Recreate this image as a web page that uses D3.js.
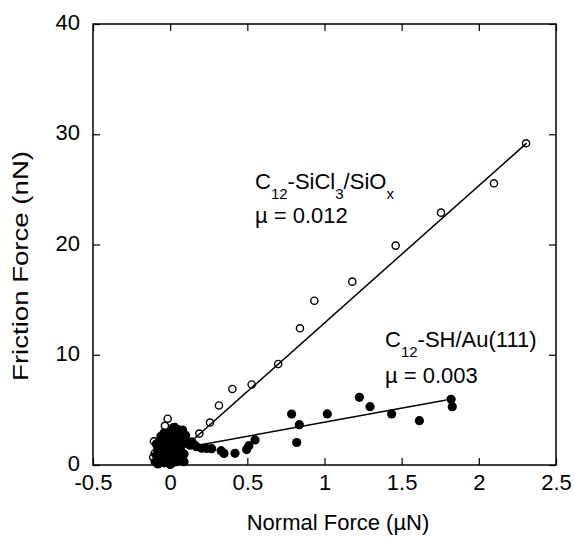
<!DOCTYPE html>
<html>
<head>
<meta charset="utf-8">
<script src="https://cdn.jsdelivr.net/npm/d3@7"></script>
<style>
  body { margin: 0; background: #fff; }
  text { font-family: "Liberation Sans", Arial, sans-serif; fill: #000; }
</style>
</head>
<body>
<div id="chart"></div>
<script>
// C12-SiCl3/SiOx (open circles)
var openX = [2.306, 2.098, 1.755, 1.461, 1.18, 0.934, 0.841, 0.70, 0.528, 0.403, 0.316, 0.258, 0.189, 0.117,
  -0.016, -0.034, 0.031, -0.105, -0.10, -0.10, -0.11, -0.08, 0.0, 0.05];
var openY = [29.18, 25.55, 22.89, 19.9, 16.63, 14.9, 12.4, 9.16, 7.3, 6.9, 5.4, 3.85, 2.85, 1.97,
  4.2, 3.55, 3.45, 2.15, 1.06, 0.3, 0.7, 1.6, 3.0, 2.9];

// C12-SH/Au(111) (filled circles)
var filledX = [1.828, 1.82, 1.615, 1.435, 1.295, 1.226, 1.018, 0.837, 0.82, 0.787,
  0.55, 0.51, 0.496, 0.42, 0.349, 0.33, 0.269, 0.236, 0.204, 0.17, 0.14, 0.16, 0.128, 0.10, 0.081,
  -0.09, -0.09, -0.08, -0.07, -0.08, -0.07, -0.06, -0.06, -0.05, -0.05, -0.04, -0.04,
  -0.03, -0.03, -0.02, -0.02, -0.01, 0.0, 0.0, 0.0, 0.0, 0.01, 0.01,
  0.02, 0.02, 0.03, 0.03, 0.03, 0.04, 0.04, 0.05, 0.05, 0.06, 0.06, 0.06,
  0.07, 0.07, 0.08, 0.08, 0.075, 0.09, -0.06, 0.02, -0.09, 0.09, 0.1];
var filledY = [5.29, 5.96, 4.02, 4.63, 5.29, 6.14, 4.63, 3.66, 2.04, 4.62,
  2.27, 1.75, 1.4, 1.06, 1.05, 1.3, 1.48, 1.5, 1.52, 1.66, 2.1, 1.8, 1.8, 2.3, 3.17,
  0.3, 0.9, 1.5, 2.1, 0.1, 0.5, 0.6, 1.2, 1.8, 2.4, 0.2, 2.9,
  0.9, 1.5, 2.1, 2.7, 0.4, 1.1, 1.7, 2.4, 0.05, 0.15, 3.0,
  0.7, 1.4, 2.0, 2.7, 3.3, 0.3, 1.0, 1.7, 3.2, 0.6, 2.3, 3.0,
  1.3, 2.9, 0.4, 1.9, 2.45, 1.0, 2.6, 3.4, 1.9, 0.3, 2.7];

// linear fits
var fitOpen = [[0.096, 1.63], [2.31, 29.2]];
var fitFilled = [[0.128, 1.66], [1.79, 5.9]];

var xTicks = [-0.5, 0, 0.5, 1, 1.5, 2, 2.5];
var xTickLabels = ["-0.5", "0", "0.5", "1", "1.5", "2", "2.5"];
var yTicks = [0, 10, 20, 30, 40];
var yTickLabels = ["0", "10", "20", "30", "40"];

var width = 575, height = 537;
var margin = {left: 93, right: 19, top: 24, bottom: 72};

var x = d3.scaleLinear().domain([-0.5, 2.5]).range([margin.left, width - margin.right]);
var y = d3.scaleLinear().domain([0, 40]).range([height - margin.bottom, margin.top]);

var svg = d3.select("#chart")
  .append("svg")
  .attr("width", width)
  .attr("height", height);

// frame
svg.append("rect")
  .attr("x", x(-0.5))
  .attr("y", y(40))
  .attr("width", x(2.5) - x(-0.5))
  .attr("height", y(0) - y(40))
  .attr("fill", "none")
  .attr("stroke", "#000")
  .attr("stroke-width", 1.5);

// inward ticks on all four sides
var tl = 7;
svg.append("g")
  .attr("transform", "translate(0," + y(0) + ")")
  .call(d3.axisBottom(x).tickValues(xTicks).tickSizeInner(-tl).tickSizeOuter(0).tickFormat(function (d, i) { return xTickLabels[i]; }))
  .call(function (g) {
    g.select(".domain").remove();
    g.selectAll("line").attr("stroke-width", 1.2);
    g.selectAll("text").attr("y", 25).attr("dy", null).style("font-size", "22px").style("font-family", "Liberation Sans, Arial, sans-serif");
  });
svg.append("g")
  .attr("transform", "translate(0," + y(40) + ")")
  .call(d3.axisTop(x).tickValues(xTicks).tickSizeInner(-tl).tickSizeOuter(0).tickFormat(""))
  .call(function (g) { g.select(".domain").remove(); g.selectAll("line").attr("stroke-width", 1.2); });
svg.append("g")
  .attr("transform", "translate(" + x(-0.5) + ",0)")
  .call(d3.axisLeft(y).tickValues(yTicks).tickSizeInner(-tl).tickSizeOuter(0).tickFormat(function (d, i) { return yTickLabels[i]; }))
  .call(function (g) {
    g.select(".domain").remove();
    g.selectAll("line").attr("stroke-width", 1.2);
    g.selectAll("text").attr("x", -13).attr("dy", "0.26em").style("font-size", "22px").style("font-family", "Liberation Sans, Arial, sans-serif");
  });
svg.append("g")
  .attr("transform", "translate(" + x(2.5) + ",0)")
  .call(d3.axisRight(y).tickValues(yTicks).tickSizeInner(-tl).tickSizeOuter(0).tickFormat(""))
  .call(function (g) { g.select(".domain").remove(); g.selectAll("line").attr("stroke-width", 1.2); });

// axis titles
svg.append("text")
  .attr("x", 338)
  .attr("y", 530)
  .attr("text-anchor", "middle")
  .style("font-size", "22px")
  .text("Normal Force (\u00b5N)");

svg.append("text")
  .attr("transform", "translate(28,266) rotate(-90)")
  .attr("text-anchor", "middle")
  .attr("textLength", 230)
  .attr("lengthAdjust", "spacingAndGlyphs")
  .style("font-size", "22px")
  .text("Friction Force (nN)");

var line = d3.line().x(function (d) { return x(d[0]); }).y(function (d) { return y(d[1]); });

svg.append("path").datum(fitOpen).attr("d", line).attr("stroke", "#000").attr("stroke-width", 1.5).attr("fill", "none");
svg.append("path").datum(fitFilled).attr("d", line).attr("stroke", "#000").attr("stroke-width", 1.5).attr("fill", "none");

svg.append("g")
  .selectAll("circle")
  .data(filledX)
  .enter()
  .append("circle")
  .attr("cx", function (d) { return x(d); })
  .attr("cy", function (d, i) { return y(filledY[i]); })
  .attr("r", 4.6)
  .attr("fill", "#000");

svg.append("g")
  .selectAll("circle")
  .data(openX)
  .enter()
  .append("circle")
  .attr("cx", function (d) { return x(d); })
  .attr("cy", function (d, i) { return y(openY[i]); })
  .attr("r", 3.6)
  .attr("fill", "none")
  .attr("stroke", "#000")
  .attr("stroke-width", 1.4);

// labels
function label(xp, yp, parts) {
  var t = svg.append("text").attr("x", xp).attr("y", yp).style("font-size", "22px");
  parts.forEach(function (p) {
    if (p.sub) {
      t.append("tspan").attr("dy", 10).style("font-size", "15px").text(p.s);
    } else {
      t.append("tspan").attr("dy", p.up ? -10 : 0).text(p.s);
    }
  });
}

label(255, 189, [{s: "C"}, {s: "12", sub: true}, {s: "-SiCl", up: true}, {s: "3", sub: true}, {s: "/SiO", up: true}, {s: "x", sub: true}]);
svg.append("text").attr("x", 255).attr("y", 223).style("font-size", "22px").text("\u00b5 = 0.012");

label(385, 347, [{s: "C"}, {s: "12", sub: true}, {s: "-SH/Au(111)", up: true}]);
svg.append("text").attr("x", 385).attr("y", 383).style("font-size", "22px").text("\u00b5 = 0.003");
</script>
</body>
</html>
